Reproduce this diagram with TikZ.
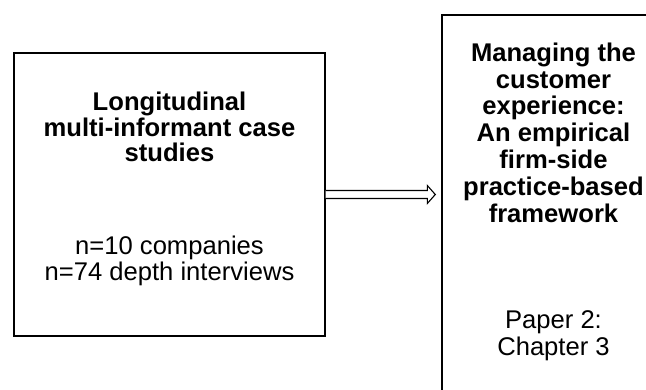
\documentclass[tikz,border=0pt]{standalone}
\usepackage{fontspec}
\setmainfont{Liberation Sans}
\begin{document}
\begin{tikzpicture}[x=1pt,y=-1pt,
  panel/.style={draw=black, line width=1.4pt, fill=white, rectangle, inner sep=0pt},
  headtext/.style={align=center, font=\fontsize{25.6}{26.8}\selectfont\bfseries, inner sep=0pt},
  bodytext/.style={align=center, font=\fontsize{25.6}{26.8}\selectfont, inner sep=0pt},
  flow/.style={draw=black, line width=1.1pt, fill=white, line join=miter}]
  \useasboundingbox (0,0) rectangle (646,390);
  \clip (0,0) rectangle (646,390);

  % method box
  \node[panel, minimum width=311pt, minimum height=283pt] (L) at (169.5,194.5) {};
  \node[headtext, font=\fontsize{25.6}{25.8}\selectfont\bfseries] (Lh) at (169.5,127) {Longitudinal\\multi-informant case\\studies};
  \node[bodytext, font=\fontsize{25.6}{25.8}\selectfont] (Lb) at (169.5,260.5) {n=10 companies\\n=74 depth interviews};

  % outcome box, running past the page edge
  \node[panel, minimum width=223pt, minimum height=400pt] (R) at (553.5,215) {};
  \node[headtext] (Rh) at (553.5,132.5) {Managing the\\customer\\experience:\\An empirical\\firm-side\\practice-based\\framework};
  \node[bodytext] (Rb) at (553.5,336) {Paper 2:\\Chapter 3};

  % hollow block arrow from the method to the outcome
  \coordinate (tip) at ([xshift=-6pt]R.west |- L.east);
  \draw[flow] (L.east) ++(0,-4) -- ([shift={(-8,-4)}]tip) -- ([shift={(-8,-9)}]tip)
     -- (tip) -- ([shift={(-8,9)}]tip) -- ([shift={(-8,4)}]tip) -- ([yshift=-4pt]L.east);
\end{tikzpicture}
\end{document}
